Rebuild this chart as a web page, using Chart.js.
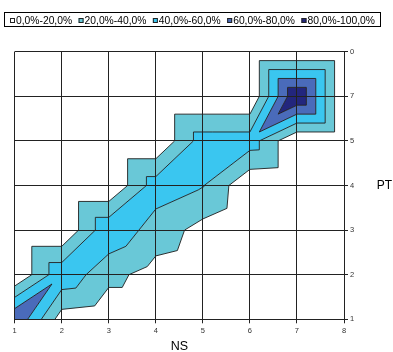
<!DOCTYPE html>
<html><head><meta charset="utf-8">
<script src="https://cdn.jsdelivr.net/npm/chart.js@4.4.1/dist/chart.umd.min.js"></script>
<style>html,body{margin:0;padding:0;background:#fff;}canvas{display:block;}</style>
</head><body>
<canvas id="c" width="393" height="352" style="width:393px;height:352px"></canvas>
<script>
const FONT = "'Liberation Sans', Arial, sans-serif";

// Categories (NS) and series positions (PT)
const nsValues = [1, 2, 3, 4, 5, 6, 7, 8];
const ptPositions = [1, 2, 3, 4, 5, 6, 7];
const ptLabels = ['1', '2', '3', '4', '5', '7', '0'];

// Legend bands
const bandLabels = ['0,0%-20,0%', '20,0%-40,0%', '40,0%-60,0%', '60,0%-80,0%', '80,0%-100,0%'];
const bandLevels = [0, 0.2, 0.4, 0.6, 0.8, 1.0];
const bandColors = ['#FFFFFF', '#69C8D7', '#3AC6F0', '#4A6BBA', '#23267D'];

// Surface values, one series per PT row (bottom to top), values along NS 1..8
const rowPT1 = [0.79, 0.10, 0.05, 0.05, 0.00, 0.00, 0.00, 0.00];
const rowPT2 = [0.00, 0.55, 0.26, 0.12, 0.07, 0.00, 0.00, 0.00];
const rowPT3 = [0.00, 0.00, 0.56, 0.31, 0.13, 0.00, 0.00, 0.00];
const rowPT4 = [0.00, 0.00, 0.00, 0.50, 0.41, 0.03, 0.00, 0.00];
const rowPT5 = [0.00, 0.00, 0.00, 0.00, 0.50, 0.50, 0.00, 0.00];
const rowPT7 = [0.00, 0.00, 0.00, 0.00, 0.00, 0.00, 1.00, 0.00];
const rowPT0 = [0.00, 0.00, 0.00, 0.00, 0.00, 0.00, 0.00, 0.00];
const surfaceRows = [rowPT1, rowPT2, rowPT3, rowPT4, rowPT5, rowPT7, rowPT0];

function clipPoly(poly, level, keepAbove) {
  const out = [];
  const inside = p => keepAbove ? p.v >= level : p.v <= level;
  for (let i = 0; i < poly.length; i++) {
    const p = poly[i], q = poly[(i + 1) % poly.length];
    const pin = inside(p), qin = inside(q);
    if (pin) out.push(p);
    if (pin !== qin) {
      const s = (level - p.v) / (q.v - p.v);
      out.push({x: p.x + s * (q.x - p.x), y: p.y + s * (q.y - p.y), v: level});
    }
  }
  return out;
}

function buildContours() {
  const bands = bandLabels.map(() => []);
  const lines = [];
  for (let j = 0; j < ptPositions.length - 1; j++) {
    for (let i = 0; i < nsValues.length - 1; i++) {
      const a = {x: nsValues[i], y: ptPositions[j], v: surfaceRows[j][i]};
      const b = {x: nsValues[i + 1], y: ptPositions[j], v: surfaceRows[j][i + 1]};
      const c = {x: nsValues[i + 1], y: ptPositions[j + 1], v: surfaceRows[j + 1][i + 1]};
      const d = {x: nsValues[i], y: ptPositions[j + 1], v: surfaceRows[j + 1][i]};
      const tris = (a.v + c.v >= b.v + d.v) ? [[a, b, c], [a, c, d]] : [[a, b, d], [b, c, d]];
      for (const t of tris) {
        for (let k = 0; k < bands.length; k++) {
          let p = t;
          if (k > 0) p = clipPoly(p, bandLevels[k], true);
          if (p.length >= 3 && k < bands.length - 1) p = clipPoly(p, bandLevels[k + 1], false);
          if (p.length >= 3) bands[k].push(p);
        }
        for (let k = 1; k < bandLevels.length - 1; k++) {
          const L = bandLevels[k];
          const pts = [];
          for (let e = 0; e < 3; e++) {
            const p = t[e], q = t[(e + 1) % 3];
            if ((p.v - L) * (q.v - L) < 0) {
              const s = (L - p.v) / (q.v - p.v);
              pts.push({x: p.x + s * (q.x - p.x), y: p.y + s * (q.y - p.y)});
            }
          }
          if (pts.length === 2) lines.push(pts);
        }
      }
    }
  }
  return {bands, lines};
}

const contours = buildContours();

const contourPlugin = {
  id: 'contourFill',
  beforeDraw(chart) {
    const ctx = chart.ctx;
    const xs = chart.scales.x, ys = chart.scales.y;
    ctx.save();
    ctx.fillStyle = '#FFFFFF';
    ctx.fillRect(0, 0, chart.width, chart.height);
    chart.data.datasets.forEach(ds => {
      ctx.beginPath();
      ds.polygons.forEach(poly => {
        poly.forEach((p, n) => {
          const px = xs.getPixelForValue(p.x), py = ys.getPixelForValue(p.y);
          if (n === 0) ctx.moveTo(px, py); else ctx.lineTo(px, py);
        });
        ctx.closePath();
      });
      ctx.fillStyle = ds.backgroundColor;
      ctx.fill();
    });
    ctx.beginPath();
    contours.lines.forEach(seg => {
      ctx.moveTo(xs.getPixelForValue(seg[0].x), ys.getPixelForValue(seg[0].y));
      ctx.lineTo(xs.getPixelForValue(seg[1].x), ys.getPixelForValue(seg[1].y));
    });
    ctx.strokeStyle = '#1E1E1E';
    ctx.lineWidth = 0.9;
    ctx.lineJoin = 'round';
    ctx.stroke();
    ctx.restore();
  },
  afterDraw(chart) {
    const ctx = chart.ctx;
    ctx.save();
    // legend
    ctx.font = '10.3px ' + FONT;
    const widths = bandLabels.map(t => ctx.measureText(t).width);
    const left = 10, right = 375;
    const used = widths.reduce((s, w) => s + w + 6, 0);
    const gap = (right - left - used) / (bandLabels.length - 1);
    ctx.strokeStyle = '#000';
    ctx.lineWidth = 1;
    ctx.strokeRect(4.5, 12.5, 376, 14);
    let x = left;
    chart.data.datasets.forEach((ds, k) => {
      ctx.fillStyle = ds.backgroundColor;
      ctx.fillRect(x, 18, 5, 5);
      ctx.strokeStyle = '#222';
      ctx.strokeRect(x + 0.5, 18.5, 4, 4);
      ctx.fillStyle = '#000';
      ctx.textBaseline = 'alphabetic';
      ctx.textAlign = 'left';
      ctx.fillText(ds.label, x + 6, 24);
      x += 6 + widths[k] + gap;
    });
    // PT title
    const a = chart.chartArea;
    ctx.font = '12px ' + FONT;
    ctx.fillStyle = '#000';
    ctx.textAlign = 'center';
    ctx.textBaseline = 'middle';
    ctx.fillText('PT', 384.5, (a.top + a.bottom) / 2);
    ctx.restore();
  }
};

new Chart(document.getElementById('c'), {
  type: 'scatter',
  data: {
    datasets: contours.bands.map((polys, k) => ({
      label: bandLabels[k],
      polygons: polys,
      data: [],
      backgroundColor: bandColors[k],
      borderColor: '#222',
      pointRadius: 0,
      showLine: false
    }))
  },
  options: {
    responsive: false,
    animation: false,
    events: [],
    layout: {padding: {top: 51.7, left: 14.7, right: 0, bottom: 0}},
    plugins: {legend: {display: false}, tooltip: {enabled: false}},
    scales: {
      x: {
        type: 'linear', position: 'bottom', min: 1, max: 8,
        ticks: {stepSize: 1, color: '#333', font: {family: FONT, size: 7.5}, padding: 3.5, maxRotation: 0, autoSkip: false},
        grid: {color: '#222', lineWidth: 1, tickLength: 4, drawTicks: true},
        border: {display: true, color: '#222', width: 1},
        title: {display: true, text: 'NS', color: '#000', font: {family: FONT, size: 12.5, lineHeight: 0.85}, padding: {top: 0, bottom: 0}},
        afterFit: s => { s.height = 32.7; }
      },
      y: {
        type: 'linear', position: 'right', min: 1, max: 7,
        ticks: {stepSize: 1, color: '#333', font: {family: FONT, size: 7.5}, padding: 2,
          callback: v => ptLabels[Math.round(v) - 1]},
        grid: {color: '#222', lineWidth: 1, tickLength: 4, drawTicks: true},
        border: {display: true, color: '#222', width: 1},
        afterFit: s => { s.width = 49; }
      }
    }
  },
  plugins: [contourPlugin]
});
</script>
</body></html>
